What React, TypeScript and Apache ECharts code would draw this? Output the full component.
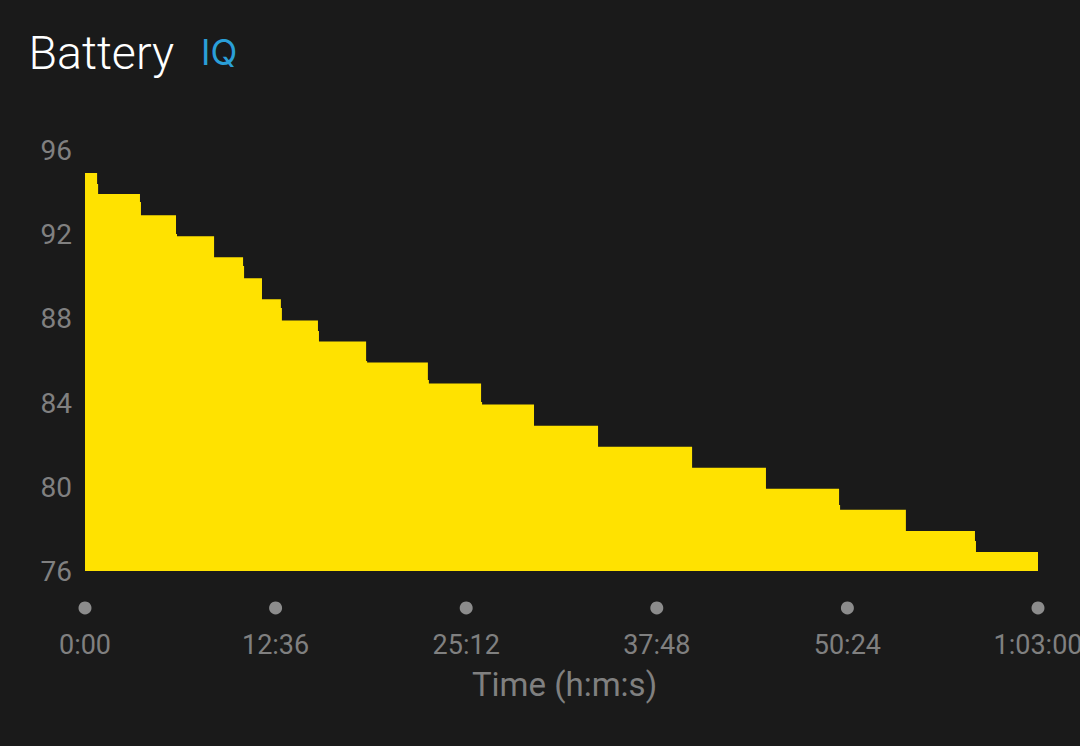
import { useEffect, useRef } from "react"
import * as echarts from "echarts"

// elapsed seconds where the battery level changes, and the level held from there on
const stepTimes = [
  0, 48, 52, 218, 222, 361, 365, 512, 627, 631, 702, 777, 781, 924, 928, 1115, 1119,
  1360, 1364, 1571, 1575, 1781, 2035, 2408, 2701, 2991, 2995, 3256, 3530, 3534, 3780,
]
const stepValues = [
  95, 94.48, 94, 93.62, 93, 92.1, 92, 91, 90.58, 90, 89, 88.59, 88, 87.5, 87, 86.07, 86,
  85.17, 85, 84.12, 84, 83, 82, 81, 80, 79.23, 79, 78, 77.52, 77, 77,
]
const tickTimes = [0, 756, 1512, 2268, 3024, 3780]
const tickLabels = ["0:00", "12:36", "25:12", "37:48", "50:24", "1:03:00"]
const yTicks = { min: 76, max: 96, interval: 4 }

const AXIS_GREY = "#808080"
const FONT = "Roboto"

export default function App() {
  const chartRef = useRef<HTMLDivElement>(null)

  useEffect(() => {
    if (!chartRef.current) return
    const chart = echarts.init(chartRef.current, undefined, { renderer: "svg" })

    chart.setOption({
      animation: false,
      backgroundColor: "#1a1a1a",
      textStyle: { fontFamily: FONT },
      grid: { left: 85, top: 152, width: 953, height: 421, outerBoundsMode: "none" },
      graphic: [
        {
          type: "text",
          x: 28.5,
          y: 29,
          style: { text: "Battery", fill: "#ffffff", font: `300 46.5px ${FONT}` },
        },
        {
          type: "text",
          x: 201,
          y: 34,
          style: { text: "IQ", fill: "#2a9fd8", font: `400 35px Inter` },
        },
      ],
      xAxis: {
        type: "value",
        min: 0,
        max: 3780,
        interval: 756,
        name: "Time (h:m:s)",
        nameLocation: "middle",
        nameGap: 95,
        nameTextStyle: { color: AXIS_GREY, fontSize: 33, fontFamily: FONT, padding: [0, 0, 0, 6] },
        axisLine: { show: false },
        axisTick: { show: false },
        splitLine: { show: false },
        axisLabel: {
          color: AXIS_GREY,
          fontSize: 27,
          fontFamily: FONT,
          margin: 58,
          showMinLabel: true,
          showMaxLabel: true,
          hideOverlap: false,
          formatter: (value: number) => tickLabels[tickTimes.indexOf(value)] ?? "",
        },
      },
      yAxis: {
        type: "value",
        min: yTicks.min,
        max: yTicks.max,
        interval: yTicks.interval,
        axisLine: { show: false },
        axisTick: { show: false },
        splitLine: { show: false },
        axisLabel: {
          color: AXIS_GREY,
          fontSize: 28,
          fontFamily: FONT,
          margin: 13,
          verticalAlign: "bottom",
          lineHeight: 3,
        },
      },
      series: [
        {
          type: "line",
          step: "end",
          symbol: "none",
          silent: true,
          lineStyle: { width: 0 },
          areaStyle: { color: "#ffe200", opacity: 1, origin: 76.095 },
          data: stepTimes.map((t, i) => [t, stepValues[i]]),
        },
        {
          // dots under the plot, one per x tick
          type: "scatter",
          clip: false,
          silent: true,
          symbolSize: 13,
          itemStyle: { color: "#8c8c8c", opacity: 1 },
          data: tickTimes.map((t) => [t, 74.34]),
        },
      ],
    })

    const handleResize = () => chart.resize()
    window.addEventListener("resize", handleResize)

    return () => {
      window.removeEventListener("resize", handleResize)
      chart.dispose()
    }
  }, [])

  return <div ref={chartRef} style={{ position: "fixed", left: 0, top: 0, width: 1080, height: 746 }} />
}
